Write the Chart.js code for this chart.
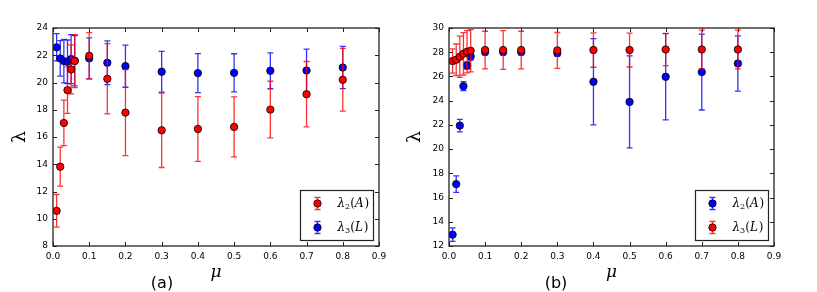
<!DOCTYPE html>
<html><head><meta charset="utf-8">
<script src="https://cdn.jsdelivr.net/npm/chart.js@4/dist/chart.umd.min.js"></script>
<style>
html,body{margin:0;padding:0;background:#fff;}
#wrap{position:relative;width:817px;height:292px;overflow:hidden;background:#fff;}
#ca{position:absolute;left:0;top:0;}
#cb{position:absolute;left:404px;top:0;}
.cap{position:absolute;top:273px;width:40px;text-align:center;font:16px "DejaVu Sans",sans-serif;line-height:20px;color:#000;}
</style></head>
<body>
<div id="wrap">
<canvas id="ca" width="408" height="292"></canvas>
<canvas id="cb" width="413" height="292"></canvas>
<div class="cap" style="left:142px">(a)</div>
<div class="cap" style="left:536px">(b)</div>
</div>
<script>
// ---- data ----
const mu = [0.01,0.02,0.03,0.04,0.05,0.06,0.1,0.15,0.2,0.3,0.4,0.5,0.6,0.7,0.8];
const xTickLabels = ['0.0','0.1','0.2','0.3','0.4','0.5','0.6','0.7','0.8','0.9'];
const yTicksA = ['8','10','12','14','16','18','20','22','24'];
const yTicksB = ['12','14','16','18','20','22','24','26','28','30'];

// panel (a)
const aLam2A = [10.58,13.82,17.03,19.44,20.96,21.57,21.96,20.27,17.79,16.49,16.59,16.74,18.01,19.14,20.20];
const aLam2AErr = [1.2,1.43,1.67,1.7,1.8,1.95,1.7,2.58,3.15,2.73,2.38,2.2,2.08,2.4,2.3];
const aLam3L = [22.58,21.77,21.57,21.52,21.72,21.6,21.77,21.45,21.2,20.79,20.69,20.71,20.86,20.88,21.1];
const aLam3LErr = [1.0,1.3,1.6,1.6,1.8,1.85,1.5,1.6,1.55,1.5,1.43,1.4,1.32,1.57,1.55];

// panel (b)
const bLam2A = [12.94,17.11,21.94,25.2,26.9,27.65,28.01,28.01,28.01,27.93,25.56,23.9,25.97,26.36,27.07];
const bLam2AErr = [0.56,0.68,0.52,0.37,0.3,0.3,0.2,0.2,0.2,0.25,3.56,3.8,3.56,3.13,2.28];
const bLam3L = [27.27,27.38,27.63,27.87,28.04,28.12,28.18,28.18,28.18,28.15,28.18,28.18,28.23,28.23,28.23];
const bLam3LErr = [1.0,1.3,1.7,1.75,1.75,1.75,1.55,1.6,1.55,1.48,1.42,1.4,1.33,1.6,1.6];

const RED = '#ff0000', BLUE = '#0000ff';
const RED_BAR = 'rgba(255,0,0,0.8)', BLUE_BAR = 'rgba(0,0,255,0.8)';
const DOT_R = 3.7;

function pts(ys){ return mu.map((x,i)=>({x:x,y:ys[i]})); }

// ---- plugins ----
const errorBars = {
  id:'errorBars',
  beforeDatasetDraw(chart,args){
    const ds = chart.data.datasets[args.index];
    if(!ds.err) return;
    const xs = chart.scales.x, ys = chart.scales.y, ctx = chart.ctx;
    ctx.save();
    ctx.strokeStyle = ds.barColor; ctx.lineWidth = 1.3;
    ds.data.forEach((p,i)=>{
      const px = xs.getPixelForValue(p.x);
      const yt = ys.getPixelForValue(p.y + ds.err[i]);
      const yb = ys.getPixelForValue(p.y - ds.err[i]);
      ctx.beginPath();
      ctx.moveTo(px,yt); ctx.lineTo(px,yb);
      ctx.moveTo(px-3,yt); ctx.lineTo(px+3,yt);
      ctx.moveTo(px-3,yb); ctx.lineTo(px+3,yb);
      ctx.stroke();
    });
    ctx.restore();
  }
};

const frameTicks = {
  id:'frameTicks',
  beforeDatasetsDraw(chart){
    const a = chart.chartArea, ctx = chart.ctx;
    const xs = chart.scales.x, ys = chart.scales.y;
    ctx.save();
    ctx.strokeStyle = '#222'; ctx.lineWidth = 1;
    ctx.beginPath();
    xs.ticks.forEach((t,i)=>{
      const px = Math.round(xs.getPixelForTick(i))+0.5;
      ctx.moveTo(px,a.bottom); ctx.lineTo(px,a.bottom-4);
      ctx.moveTo(px,a.top); ctx.lineTo(px,a.top+4);
    });
    ys.ticks.forEach((t,i)=>{
      const py = Math.round(ys.getPixelForTick(i))+0.5;
      ctx.moveTo(a.left,py); ctx.lineTo(a.left+4,py);
      ctx.moveTo(a.right,py); ctx.lineTo(a.right-4,py);
    });
    ctx.stroke();
    ctx.restore();
  },
  afterDatasetsDraw(chart){
    const a = chart.chartArea, ctx = chart.ctx;
    ctx.save();
    ctx.strokeStyle = '#222'; ctx.lineWidth = 1.3;
    ctx.strokeRect(a.left, a.top, a.right-a.left, a.bottom-a.top);
    ctx.restore();
  }
};

function drawLabel(ctx, x, y, sub, letter){
  ctx.textBaseline = 'middle'; ctx.textAlign = 'left'; ctx.fillStyle = '#000';
  ctx.font = 'italic 12px "DejaVu Serif", serif';
  ctx.fillText('λ', x, y); x += ctx.measureText('λ').width;
  ctx.font = '8px "DejaVu Serif", serif';
  ctx.fillText(sub, x, y+3); x += ctx.measureText(sub).width;
  ctx.font = '12px "DejaVu Serif", serif';
  ctx.fillText('(', x, y); x += ctx.measureText('(').width;
  ctx.font = 'italic 12px "DejaVu Serif", serif';
  ctx.fillText(letter, x, y); x += ctx.measureText(letter).width+1;
  ctx.font = '12px "DejaVu Serif", serif';
  ctx.fillText(')', x, y);
}

const legendBox = {
  id:'legendBox',
  afterDraw(chart){
    const a = chart.chartArea, ctx = chart.ctx;
    const w = 73, h = 50;
    const x0 = Math.round(a.right - 6 - w)+0.5, y0 = Math.round(a.bottom - 6 - h)+0.5;
    ctx.save();
    ctx.fillStyle = '#fff'; ctx.fillRect(x0,y0,w,h);
    ctx.strokeStyle = '#222'; ctx.lineWidth = 1.2; ctx.strokeRect(x0,y0,w,h);
    chart.data.datasets.forEach((ds,i)=>{
      const cy = y0 + 13 + i*24, cx = x0 + 17;
      ctx.strokeStyle = ds.barColor; ctx.lineWidth = 1.3;
      ctx.beginPath();
      ctx.moveTo(cx,cy-6); ctx.lineTo(cx,cy+6);
      ctx.moveTo(cx-3,cy-6); ctx.lineTo(cx+3,cy-6);
      ctx.moveTo(cx-3,cy+6); ctx.lineTo(cx+3,cy+6);
      ctx.stroke();
      ctx.beginPath(); ctx.arc(cx,cy,DOT_R,0,Math.PI*2);
      ctx.fillStyle = ds.backgroundColor; ctx.fill();
      ctx.strokeStyle = '#000'; ctx.lineWidth = 0.8; ctx.stroke();
      drawLabel(ctx, x0+37, cy, ds.sub, ds.letter);
    });
    ctx.restore();
  }
};

function makeChart(id, datasets, yMin, yMax, yLabels, yWidth, padRight, titlePad){
  return new Chart(document.getElementById(id), {
    type:'scatter',
    data:{datasets:datasets},
    options:{
      responsive:false, animation:false,
      layout:{padding:{left:0, top:28, right:padRight, bottom:0}},
      plugins:{legend:{display:false}, tooltip:{enabled:false}},
      elements:{point:{radius:DOT_R, borderWidth:0.8, borderColor:'#000'}},
      scales:{
        x:{type:'linear', min:0, max:0.9,
           grid:{display:false, drawTicks:false}, border:{display:false},
           ticks:{stepSize:0.1, padding:5, maxRotation:0, autoSkip:false, color:'#000',
                  font:{family:'"DejaVu Sans"', size:9},
                  callback:(v,i)=>xTickLabels[i]},
           title:{display:true, text:'μ', color:'#000',
                  font:{family:'"DejaVu Serif"', style:'italic', size:17}, padding:{top:0,bottom:9}},
           afterFit:(s)=>{ s.height = 46; }},
        y:{type:'linear', min:yMin, max:yMax,
           grid:{display:false, drawTicks:false}, border:{display:false},
           ticks:{stepSize:2, padding:5, color:'#000',
                  font:{family:'"DejaVu Sans"', size:9},
                  callback:(v,i)=>yLabels[i]},
           title:{display:true, text:'λ', color:'#000',
                  font:{family:'"DejaVu Serif"', size:19}, padding:{top:titlePad,bottom:0}},
           afterFit:(s)=>{ s.width = yWidth; }}
      }
    },
    plugins:[frameTicks, errorBars, legendBox]
  });
}

makeChart('ca', [
  {label:'λ2(A)', sub:'2', letter:'A', data:pts(aLam2A), err:aLam2AErr, backgroundColor:RED, barColor:RED_BAR, order:0},
  {label:'λ3(L)', sub:'3', letter:'L', data:pts(aLam3L), err:aLam3LErr, backgroundColor:BLUE, barColor:BLUE_BAR, order:1}
], 8, 24, yTicksA, 53, 29, 9);

makeChart('cb', [
  {label:'λ2(A)', sub:'2', letter:'A', data:pts(bLam2A), err:bLam2AErr, backgroundColor:BLUE, barColor:BLUE_BAR, order:1},
  {label:'λ3(L)', sub:'3', letter:'L', data:pts(bLam3L), err:bLam3LErr, backgroundColor:RED, barColor:RED_BAR, order:0}
], 12, 30, yTicksB, 45, 43, 0);
</script>
</body></html>
